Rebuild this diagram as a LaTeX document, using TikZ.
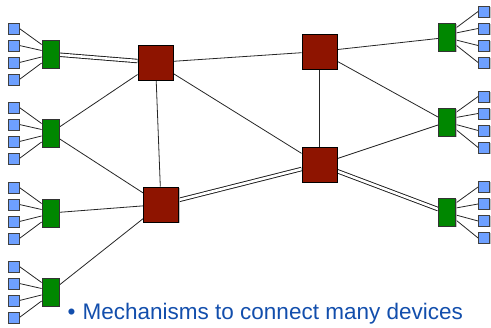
\documentclass[tikz,border=0pt]{standalone}
\usepackage{fontspec}
\setmainfont{Liberation Sans}
\usetikzlibrary{shadows,backgrounds}
\definecolor{devblue}{RGB}{110,160,255}
\definecolor{swgreen}{RGB}{0,135,0}
\definecolor{rtred}{RGB}{142,20,0}
\definecolor{txtblue}{RGB}{18,78,172}
\tikzset{
  shad/.style={drop shadow={shadow xshift=1pt,shadow yshift=-1pt,fill=black!30,opacity=0.8}},
  dev/.style={draw=black!75,line width=0.8pt,fill=devblue,minimum width=11pt,minimum height=11pt,inner sep=0pt,shad},
  sw/.style={draw=black!80,line width=0.8pt,fill=swgreen,minimum width=17pt,minimum height=28pt,inner sep=0pt,shad},
  rt/.style={draw=black,line width=0.9pt,fill=rtred,minimum width=35pt,minimum height=35pt,inner sep=0pt,shad},
  lnk/.style={line width=0.8pt,black!85},
  dbl/.style={double=white,double distance=2.6pt,line width=0.9pt,draw=black!90},
  captxt/.style={text=txtblue,font=\fontsize{22.5}{26}\selectfont,inner sep=0pt},
}
\begin{document}
\begin{tikzpicture}[x=1pt,y=-1pt]
\useasboundingbox (0,0) rectangle (491,328);
% routers
\node[rt] (r1) at (155.5,62.5) {};
\node[rt] (r2) at (161,204.5) {};
\node[rt] (r3) at (319.5,51.5) {};
\node[rt] (r4) at (319.5,164.5) {};
% left switches
\node[sw] (gl1) at (50.5,54) {};
\node[sw] (gl2) at (50.5,133) {};
\node[sw] (gl3) at (50.5,213) {};
\node[sw] (gl4) at (50.5,292) {};
% right switches
\node[sw] (gr1) at (447,37.5) {};
\node[sw] (gr2) at (447,122) {};
\node[sw] (gr3) at (447,212.5) {};
% left devices
\foreach \g/\c in {gl1/54,gl2/133,gl3/213,gl4/292}{
  \foreach \i/\dy in {1/-25.5,2/-8.5,3/8.5,4/25.5}{
    \node[dev] (\g d\i) at (13.5,\c+\dy) {};
  }
}
% right devices
\foreach \g/\c in {gr1/37,gr2/122,gr3/212.5}{
  \foreach \i in {1,2,3,4}{
    \node[dev] (\g d\i) at (484,{\c+(\i-2.5)*17}) {};
  }
}
\begin{scope}[on background layer]
% device links (left)
\foreach \g in {gl1,gl2,gl3,gl4}{
  \draw[lnk] (\g d1.east) -- ([yshift=9.5pt]\g.west);
  \draw[lnk] (\g d2.east) -- ([yshift=3.5pt]\g.west);
  \draw[lnk] (\g d3.east) -- ([yshift=-3pt]\g.west);
  \draw[lnk] (\g d4.east) -- ([yshift=-9pt]\g.west);
}
% device links (right)
\foreach \g in {gr1,gr2,gr3}{
  \draw[lnk] (\g d1.west) -- ([yshift=9.5pt]\g.east);
  \draw[lnk] (\g d2.west) -- ([yshift=4.5pt]\g.east);
  \draw[lnk] (\g d3.west) -- ([yshift=-2.5pt]\g.east);
  \draw[lnk] (\g d4.west) -- ([yshift=-7.5pt]\g.east);
}
% backbone links
\draw[dbl] (gl1) -- (r1);
\draw[lnk] (gl2) -- (r1);
\draw[lnk] (gl2) -- (r2);
\draw[lnk] (gl3) -- (r2);
\draw[lnk] (gl4) -- (r2);
\draw[lnk] (r1) -- (r2);
\draw[lnk] (r1) -- (r3);
\draw[lnk] (r1) -- (r4);
\draw[lnk] (r3) -- (r4);
\draw[lnk] (r3) -- (gr1);
\draw[lnk] (r3) -- (gr2);
\draw[lnk] (r4) -- (gr2);
\draw[dbl] (r4) -- (gr3);
\draw[dbl] (r2) -- (r4);
\end{scope}
% caption
\node[captxt,anchor=base] (bul) at (71.5,320) {\textbullet};
\node[captxt,anchor=base west] (cap) at (82.5,320) {Mechanisms to connect many devices};
\end{tikzpicture}
\end{document}
